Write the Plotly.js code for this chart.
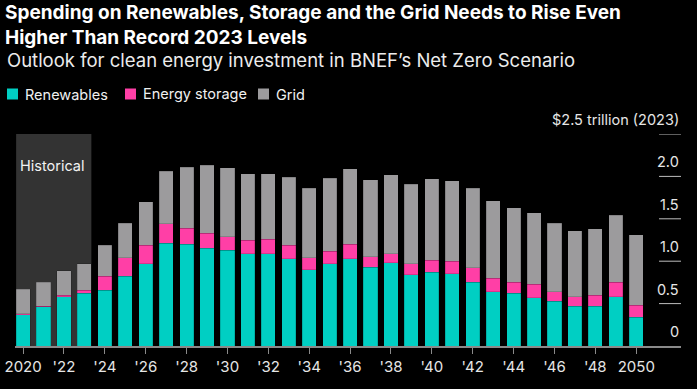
<!DOCTYPE html>
<html>
<head>
<meta charset="utf-8">
<script src="https://cdn.plot.ly/plotly-3.0.1.min.js"></script>
<style>html,body{margin:0;padding:0;background:#000;}#chart{width:697px;height:389px;}</style>
</head>
<body>
<div id="chart"></div>
<script>
// ---- data (US$ trillion, 2023 real) ----
const years = [2020,2021,2022,2023,2024,2025,2026,2027,2028,2029,2030,2031,2032,2033,2034,2035,2036,2037,2038,2039,2040,2041,2042,2043,2044,2045,2046,2047,2048,2049,2050];
const renewables = [0.37,0.46,0.58,0.62,0.66,0.82,0.97,1.21,1.20,1.15,1.13,1.09,1.09,1.03,0.90,0.97,1.03,0.93,0.98,0.84,0.87,0.85,0.75,0.64,0.62,0.57,0.53,0.47,0.47,0.58,0.34];
const storage = [0.01,0.01,0.02,0.04,0.16,0.22,0.22,0.23,0.19,0.18,0.16,0.16,0.17,0.16,0.14,0.15,0.17,0.12,0.11,0.13,0.14,0.15,0.17,0.16,0.13,0.16,0.11,0.11,0.13,0.17,0.14];
const grid = [0.29,0.28,0.29,0.31,0.37,0.41,0.51,0.62,0.72,0.80,0.81,0.78,0.77,0.80,0.82,0.86,0.89,0.91,0.93,0.94,0.96,0.95,0.94,0.91,0.88,0.84,0.81,0.78,0.78,0.79,0.83];
const seriesNames = ['Renewables','Energy storage','Grid'];
const xTickVals = [2020,2022,2024,2026,2028,2030,2032,2034,2036,2038,2040,2042,2044,2046,2048,2050];
const xTickText = ['2020',"'22","'24","'26","'28","'30","'32","'34","'36","'38","'40","'42","'44","'46","'48",'2050'];
const yTickVals = [0,0.5,1.0,1.5,2.0,2.5];
const yTickText = ['0','0.5','1.0','1.5','2.0','$2.5 trillion (2023)'];
const historicalRange = [2020,2023];

const colors = ['#00CFC3','#FF3FA6','#9C9B9D'];
const FONT = 'Inter, Liberation Sans, Arial, sans-serif';

const traces = [renewables, storage, grid].map((vals,i)=>({
  type:'bar', x: years, y: vals, name: seriesNames[i], showlegend:false,
  marker:{color: colors[i], line:{color:'rgba(0,0,0,0.25)', width:0.6}},
  hoverinfo:'x+y+name'
}));

// plot area geometry helpers (paper coords from pixels)
const W=697, H=389, ML=15, MR=16, MT=134, MB=43;
const PW=W-ML-MR, PH=H-MT-MB;
const px2x = p => (p-ML)/PW;
const py2y = p => 1 + (MT-p)/PH;

const shapes = [{
  type:'rect', layer:'below', xref:'x', yref:'y',
  x0: historicalRange[0]-0.34, x1: historicalRange[1]+0.34, y0:0, y1:2.5,
  fillcolor:'#333333', line:{width:0}
}];
yTickVals.forEach(v=>{
  if (v>0) shapes.push({type:'line', xref:'paper', yref:'y', x0:0.967, x1:1, y0:v, y1:v, line:{color:'#bdbdbd', width:1}});
});

const annotations = yTickVals.map((v,i)=>({
  xref:'paper', yref:'y', x:1, y:v, xanchor:'right', yanchor:'middle', yshift:14.5,
  text: yTickText[i], showarrow:false, font:{family:FONT, size:14.5, color:'#e6e6e6'}
}));
annotations.push({
  xref:'paper', yref:'paper', x:px2x(5), y:py2y(59.5), xanchor:'left', yanchor:'middle',
  text:'Outlook for clean energy investment in BNEF’s Net Zero Scenario', showarrow:false,
  font:{family:FONT, size:18.5, color:'#ececec'}
});
annotations.push({
  xref:'x', yref:'y', x:historicalRange[0]-0.25, y:2.13, xanchor:'left', yanchor:'middle',
  text:'Historical', showarrow:false, font:{family:FONT, size:14.5, color:'#f2f2f2'}
});

// legend (swatch + label per series)
const legendSwatchX = [7,125,258];
const legendTextX = [23,141,274];
seriesNames.forEach((n,i)=>{
  shapes.push({type:'rect', xref:'paper', yref:'paper',
    x0:px2x(legendSwatchX[i]), x1:px2x(legendSwatchX[i]+11), y0:py2y(99.5), y1:py2y(88.5),
    fillcolor:colors[i], line:{width:0}});
  annotations.push({xref:'paper', yref:'paper', x:px2x(legendTextX[i]), y:py2y(94), xanchor:'left', yanchor:'middle',
    text:n, showarrow:false, font:{family:FONT, size:14.5, color:'#f0f0f0'}});
});

const layout = {
  width:W, height:H,
  paper_bgcolor:'#000', plot_bgcolor:'#000',
  margin:{l:ML, r:MR, t:MT, b:MB, pad:0, autoexpand:false},
  barmode:'stack', bargap:0.31,
  title:{
    text:'Spending on Renewables, Storage and the Grid Needs to Rise Even<br>Higher Than Record 2023 Levels',
    font:{family:FONT, size:19, color:'#ffffff', weight:700},
    x:5/W, xref:'container', xanchor:'left', y:1-19/H, yref:'container', yanchor:'top'
  },
  showlegend:false,
  xaxis:{
    range:[2019.604, 2052.19], fixedrange:true,
    tickmode:'array', tickvals:xTickVals, ticktext:xTickText,
    ticks:'outside', ticklen:6, tickwidth:1, tickcolor:'#8a8a8a',
    showline:true, linecolor:'#8a8a8a', linewidth:1.5,
    showgrid:false, zeroline:false,
    tickfont:{family:FONT, size:15, color:'#e6e6e6'}
  },
  yaxis:{
    range:[0,2.5], fixedrange:true, showticklabels:false, showgrid:false, zeroline:false, showline:false
  },
  shapes: shapes,
  annotations: annotations
};

Plotly.newPlot('chart', traces, layout, {displayModeBar:false, staticPlot:true});
</script>
</body>
</html>
